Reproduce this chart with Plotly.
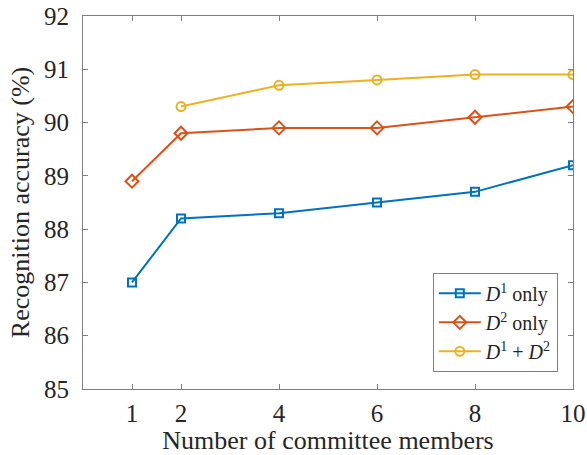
import plotly.graph_objects as go

x_vals = [1, 2, 4, 6, 8, 10]
x_both = [2, 4, 6, 8, 10]
d1_only = [87.0, 88.2, 88.3, 88.5, 88.7, 89.2]
d2_only = [88.9, 89.8, 89.9, 89.9, 90.1, 90.3]
d1_d2 = [90.3, 90.7, 90.8, 90.9, 90.9]
x_ticks = [1, 2, 4, 6, 8, 10]
y_ticks = [85, 86, 87, 88, 89, 90, 91, 92]

FONT = "Liberation Serif"

fig = go.Figure()
fig.add_trace(go.Scatter(x=x_vals, y=d1_only, mode="lines+markers",
                         name="<i>D</i><sup>1</sup> only",
                         line=dict(color="#0072BD", width=2),
                         marker=dict(symbol="square-open", size=8, color="#0072BD", line=dict(width=2))))
fig.add_trace(go.Scatter(x=x_vals, y=d2_only, mode="lines+markers",
                         name="<i>D</i><sup>2</sup> only",
                         line=dict(color="#D95319", width=2),
                         marker=dict(symbol="diamond-open", size=10, color="#D95319", line=dict(width=2))))
fig.add_trace(go.Scatter(x=x_both, y=d1_d2, mode="lines+markers",
                         name="<i>D</i><sup>1</sup> + <i>D</i><sup>2</sup>",
                         line=dict(color="#EDB120", width=2),
                         marker=dict(symbol="circle-open", size=9, color="#EDB120", line=dict(width=2))))

axis_common = dict(showline=True, linecolor="#7f7f7f", linewidth=1, mirror="ticks",
                   ticks="inside", ticklen=5, tickcolor="#7f7f7f", tickwidth=1,
                   showgrid=False, zeroline=False, automargin=False,
                   tickfont=dict(family=FONT, size=25, color="#262626"))

fig.update_xaxes(range=[0, 10], tickvals=x_ticks, ticklabelstandoff=2,
                 title=dict(text="Number of committee members", font=dict(family=FONT, size=26, color="#262626"), standoff=10),
                 **axis_common)
fig.update_yaxes(range=[85, 92], tickvals=y_ticks, ticklabelstandoff=8,
                 title=dict(text="Recognition accuracy (%)", font=dict(family=FONT, size=26, color="#262626"), standoff=6),
                 **axis_common)

fig.update_layout(
    width=587, height=455,
    margin=dict(l=83, r=14, t=16, b=66),
    paper_bgcolor="white", plot_bgcolor="white",
    showlegend=True,
    legend=dict(x=0.969, y=0.046, xanchor="right", yanchor="bottom",
                bordercolor="#7f7f7f", borderwidth=1, bgcolor="white",
                font=dict(family=FONT, size=20, color="#262626"),
                tracegroupgap=0, itemwidth=42),
)

fig.write_html("out.html", config={"displayModeBar": False},
               post_script="document.body.style.margin='0';document.body.style.overflow='hidden';")
